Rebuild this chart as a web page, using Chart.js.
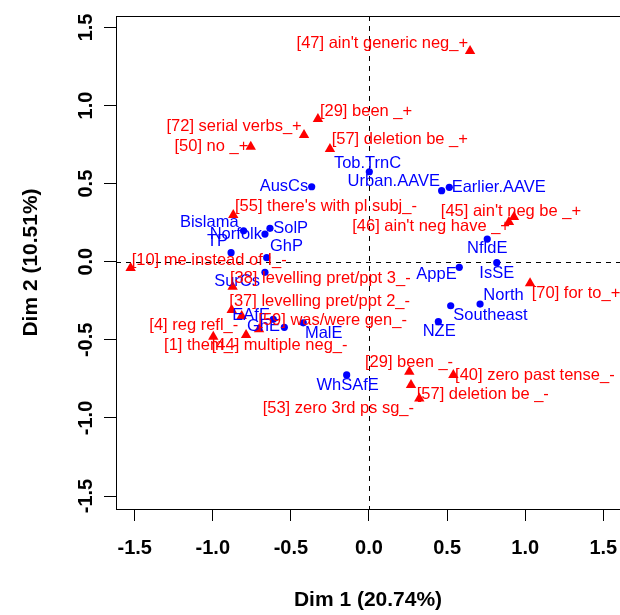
<!DOCTYPE html>
<html><head><meta charset="utf-8">
<script src="https://cdn.jsdelivr.net/npm/chart.js@4.4.1/dist/chart.umd.min.js"></script>
<style>html,body{margin:0;padding:0;background:#fff;}#wrap{width:620px;height:615px;}</style>
</head><body><div id="wrap"><canvas id="c" width="620" height="615"></canvas></div>
<script>
// ---- data ----
const varietyNames = ["Tob.TrnC","Urban.AAVE","Earlier.AAVE","AusCs","Bislama","Norfolk","SolP","TP","GhP","SurCs","EAfE","GhE","MalE","WhSAfE","NZE","Southeast","North","AppE","IsSE","NfldE"];
const varietyDim1 = [0.002,0.465,0.514,-0.367,-0.803,-0.666,-0.634,-0.883,-0.655,-0.666,-0.613,-0.542,-0.421,-0.143,0.444,0.523,0.711,0.578,0.818,0.757];
const varietyDim2 = [0.576,0.455,0.476,0.480,0.198,0.177,0.214,0.058,0.026,-0.068,-0.369,-0.420,-0.391,-0.725,-0.384,-0.282,-0.271,-0.036,-0.006,0.145];

const featureNames = ["[47] ain't generic neg_+","[29] been _+","[72] serial verbs_+","[50] no _+","[57] deletion be _+","[55] there's with pl subj_-","[45] ain't neg be _+","[46] ain't neg have _+","[10] me instead of I_-","[38] levelling pret/ppt 3_-","[37] levelling pret/ppt 2_-","[59] was/were gen_-","[4] reg refl_-","[44] multiple neg_-","[1] them_-","[29] been _-","[40] zero past tense_-","[57] deletion be _-","[53] zero 3rd ps sg_-","[70] for to_+"];
const featureDim1 = [0.647,-0.327,-0.416,-0.757,-0.250,-0.869,0.928,0.896,-1.526,-0.873,-0.879,-0.815,-0.997,-0.704,-0.787,0.258,0.540,0.269,0.322,1.031];
const featureDim2 = [1.349,0.914,0.811,0.736,0.722,0.299,0.286,0.254,-0.040,-0.160,-0.309,-0.348,-0.480,-0.433,-0.469,-0.704,-0.725,-0.789,-0.875,-0.138];

const axisTicks = [-1.5,-1.0,-0.5,0.0,0.5,1.0,1.5];
const axisTitleX = "Dim 1 (20.74%)";
const axisTitleY = "Dim 2 (10.51%)";

// ---- label placement (pixel offset from the mark, text alignment) ----
const varietyLabelPlacement = [[-1.8,-8.4,'c'],[-1.7,-9,'r'],[2.4,0,'l'],[-3.4,0,'r'],[-5,-8,'r'],[-3,0,'r'],[3.3,0,'l'],[-3,-11,'r'],[3.3,-11.7,'l'],[-5,9.4,'r'],[-3.3,-4.3,'r'],[-4.3,-1.3,'r'],[1.7,10.6,'l'],[1,10,'c'],[0.8,10,'c'],[2.6,9.3,'l'],[3.3,-9,'l'],[-2.6,7,'r'],[0,10.6,'c'],[0,9.3,'c']];
const featureLabelPlacement = [[-2,-8,'r'],[2,-7.3,'l'],[-2.3,-8.3,'r'],[-2.4,0,'r'],[1.7,-9,'l'],[1.7,-9,'l'],[-3,-5.3,'c'],[1,4.7,'r'],[1,-8,'l'],[-2.7,-8.4,'l'],[-2.4,-8.3,'l'],[16.6,4.7,'l'],[25,-11.7,'r'],[-47.3,15.7,'l'],[-82,10,'l'],[-44.3,-9,'l'],[1.7,0,'l'],[5.7,9,'l'],[-5.3,9.7,'r'],[1.7,10,'l']];

const BLUE = '#0000FF', RED = '#FF0000';
const FONT = '"Liberation Sans", Arial, Helvetica, sans-serif';

const rPlot = {
  id: 'rPlot',
  beforeDatasetsDraw(chart) {
    const {ctx, chartArea: a, scales: {x, y}} = chart;
    ctx.save();
    ctx.strokeStyle = '#000'; ctx.lineWidth = 1; ctx.setLineDash([5, 5]);
    const x0 = Math.round(x.getPixelForValue(0)) + 0.5;
    const y0 = Math.round(y.getPixelForValue(0)) + 0.5;
    ctx.beginPath();
    ctx.moveTo(a.left, y0); ctx.lineTo(a.right, y0);
    ctx.moveTo(x0, a.top); ctx.lineTo(x0, a.bottom);
    ctx.stroke();
    ctx.restore();
  },
  afterDatasetsDraw(chart) {
    const ctx = chart.ctx;
    ctx.save();
    ctx.font = '16.5px ' + FONT;
    ctx.textBaseline = 'middle';
    const groups = [[1, varietyNames, varietyLabelPlacement, BLUE], [0, featureNames, featureLabelPlacement, RED]];
    for (const [di, names, place, col] of groups) {
      const meta = chart.getDatasetMeta(di);
      ctx.fillStyle = col;
      meta.data.forEach((el, i) => {
        const p = place[i];
        ctx.textAlign = p[2] === 'l' ? 'left' : (p[2] === 'r' ? 'right' : 'center');
        ctx.fillText(names[i], el.x + p[0], el.y + p[1]);
      });
    }
    ctx.restore();
  },
  afterDraw(chart) {
    const {ctx, chartArea: a, scales: {x, y}} = chart;
    ctx.save();
    ctx.strokeStyle = '#000'; ctx.lineWidth = 1; ctx.setLineDash([]);
    ctx.strokeRect(Math.round(a.left) + 0.5, Math.round(a.top) + 0.5, Math.round(a.right - a.left), Math.round(a.bottom - a.top));
    ctx.fillStyle = '#000';
    ctx.font = 'bold 20px ' + FONT;
    ctx.textAlign = 'center'; ctx.textBaseline = 'middle';
    x.ticks.forEach(t => ctx.fillText(t.value.toFixed(1), x.getPixelForValue(t.value), 548));
    y.ticks.forEach(t => {
      ctx.save();
      ctx.translate(86, y.getPixelForValue(t.value));
      ctx.rotate(-Math.PI / 2);
      ctx.fillText(t.value.toFixed(1), 0, 0);
      ctx.restore();
    });
    ctx.font = 'bold 21px ' + FONT;
    ctx.fillText(axisTitleX, (a.left + a.right) / 2, 600);
    ctx.save();
    ctx.translate(31, (a.top + a.bottom) / 2);
    ctx.rotate(-Math.PI / 2);
    ctx.fillText(axisTitleY, 0, 0);
    ctx.restore();
    ctx.restore();
  }
};

const tickGrid = {drawOnChartArea: false, drawTicks: true, tickLength: 12, color: '#000', lineWidth: 1};

new Chart(document.getElementById('c'), {
  type: 'scatter',
  data: {
    datasets: [
      {label: 'features', data: featureDim1.map((v, i) => ({x: v, y: featureDim2[i]})),
       pointStyle: 'triangle', radius: 6, backgroundColor: RED, borderColor: RED, borderWidth: 0},
      {label: 'varieties', data: varietyDim1.map((v, i) => ({x: v, y: varietyDim2[i]})),
       pointStyle: 'circle', radius: 3.6, backgroundColor: BLUE, borderColor: BLUE, borderWidth: 0}
    ]
  },
  options: {
    responsive: false, animation: false, devicePixelRatio: 1,
    layout: {autoPadding: false, padding: {left: 0, right: 0, top: 16, bottom: 0}},
    plugins: {legend: {display: false}, tooltip: {enabled: false}},
    scales: {
      x: {type: 'linear', min: -1.6197, max: 1.6069,
          afterBuildTicks: s => { s.ticks = axisTicks.map(v => ({value: v})); },
          afterFit: s => { s.height = 106; s.paddingLeft = 0; s.paddingRight = 0; },
          ticks: {color: 'rgba(0,0,0,0)', font: {size: 20}},
          grid: tickGrid, border: {display: false}},
      y: {type: 'linear', min: -1.583, max: 1.573,
          afterBuildTicks: s => { s.ticks = axisTicks.map(v => ({value: v})); },
          afterFit: s => { s.width = 116; s.paddingTop = 0; s.paddingBottom = 0; },
          ticks: {color: 'rgba(0,0,0,0)', font: {size: 20}},
          grid: tickGrid, border: {display: false}}
    }
  },
  plugins: [rPlot]
});
</script>
</body></html>
